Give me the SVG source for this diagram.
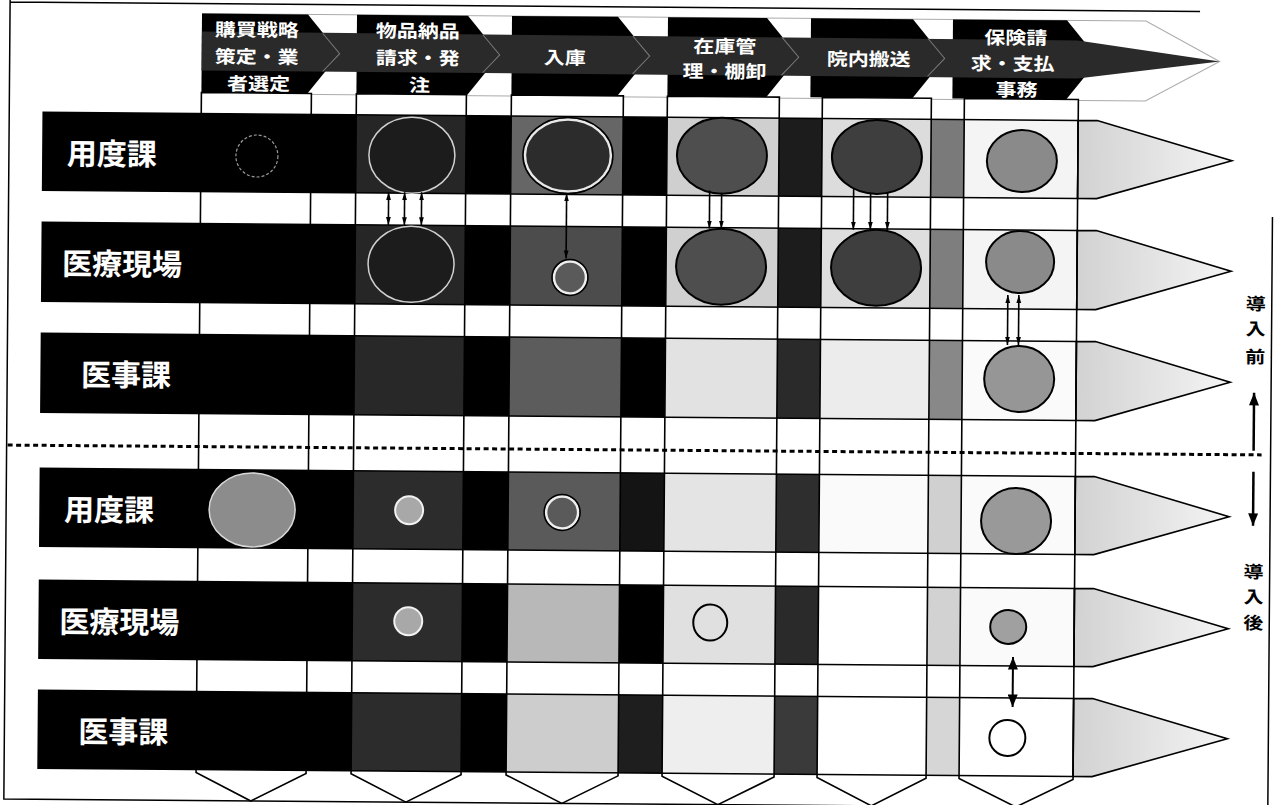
<svg xmlns="http://www.w3.org/2000/svg" width="1274" height="805" viewBox="0 0 1274 805">
<defs>
<style>
.lbl{font-family:"Noto Sans CJK JP","Noto Sans CJK SC",sans-serif;font-weight:bold;font-size:30px;fill:#fff;dominant-baseline:central}
.hd{font-family:"Noto Sans CJK JP","Noto Sans CJK SC",sans-serif;font-weight:bold;font-size:21px;fill:#fff;text-anchor:middle;dominant-baseline:central}
.side{font-family:"Noto Sans CJK JP","Noto Sans CJK SC",sans-serif;font-weight:bold;font-size:20px;fill:#000;text-anchor:middle;dominant-baseline:central}
.bar{fill:#000}
.edge{fill:none;stroke:#000;stroke-width:1.6}
.tip{fill:url(#tipg);stroke:#000;stroke-width:1.6;stroke-linejoin:miter}
.col{fill:none;stroke:#000;stroke-width:1.6}
.hdr{fill:#000}
.frame{fill:none;stroke:#000;stroke-width:1.5}
.cA{fill:#1c1c1c;stroke:#d0d0d0;stroke-width:1.5}
.cB{fill:#2c2c2c;stroke:#e8e8e8;stroke-width:2.5}
.cD{fill:#4e4e4e;stroke:#000;stroke-width:2}
.cD2{fill:#3e3e3e;stroke:#000;stroke-width:2}
.cM{fill:#8a8a8a;stroke:#000;stroke-width:2}
.cL{fill:#a8a8a8;stroke:#f2f2f2;stroke-width:2}
.cR{fill:#5a5a5a;stroke:#eee;stroke-width:2.5}
.cRo{fill:none;stroke:#000;stroke-width:1.5}
.cO{fill:none;stroke:#000;stroke-width:2}
.cW{fill:#fff;stroke:#000;stroke-width:2}
.cF{fill:none;stroke:#9a9a9a;stroke-width:1.2;stroke-dasharray:3 2}
.cG{fill:#8c8c8c;stroke:#d8d8d8;stroke-width:1.5}
.ar{fill:none;stroke:#000;stroke-width:1.6}
.arb{fill:none;stroke:#000;stroke-width:2.5}
</style>
<linearGradient id="tipg" x1="0" y1="0" x2="1" y2="0">
<stop offset="0" stop-color="#d2d2d2"/>
<stop offset="1" stop-color="#f4f4f4"/>
</linearGradient>
<marker id="ah" viewBox="0 0 10 6" refX="10" refY="3" markerWidth="8" markerHeight="6" markerUnits="userSpaceOnUse" orient="auto-start-reverse">
<path d="M0,0 L10,3 L0,6 z" fill="#000"/>
</marker>
<marker id="ahb" viewBox="0 0 10 8" refX="10" refY="4" markerWidth="13" markerHeight="10" markerUnits="userSpaceOnUse" orient="auto-start-reverse">
<path d="M0,0 L10,4 L0,8 z" fill="#000"/>
</marker>
</defs>
<rect x="0" y="0" width="1274" height="805" fill="#fff"/>
<g transform="rotate(0.45 637 400)">

<g id="frame">
<path class="frame" d="M7,7 H1197 M7,5 V804 H1274 M1271,212 V804"/>
</g>

<g id="process-arrow">
<path d="M199,17 H1143 L1217,57 L1143,97 H199" fill="none" stroke="#aaa" stroke-width="1"/>
</g>

<g id="headers">
<g id="h1"><polygon class="hdr" points="199,17 305,17 337,56 305,96 199,96"/></g>
<g id="h2"><polygon class="hdr" points="354,17 465,17 497,56 465,96 354,96"/></g>
<g id="h3"><polygon class="hdr" points="509,17 615,17 647,56 615,96 509,96"/></g>
<g id="h4"><polygon class="hdr" points="665,17 764,17 796,56 764,96 665,96"/></g>
<g id="h5"><polygon class="hdr" points="808,17 910,17 942,56 910,96 808,96"/></g>
<g id="h6"><polygon class="hdr" points="950,17 1064,17 1096,56 1064,96 950,96"/></g>
</g>

<g id="band">
<polygon points="199,35 1075,37 1217,57 1075,75 199,74" fill="#2a2a2a"/>
<g fill="none" stroke="#7a7a7a" stroke-width="1">
<polyline points="320,36 337,56 320,74"/>
<polyline points="480,36 497,56 480,74"/>
<polyline points="630,36 647,56 630,74"/>
<polyline points="779,36 796,56 779,74"/>
<polyline points="925,36 942,56 925,74"/>
</g>
</g>

<g id="header-text">
<text class="hd" transform="scale(1 0.85)"><tspan x="254" y="36.47">購買戦略</tspan><tspan x="254" y="68.24">策定・業</tspan><tspan x="256" y="100">者選定</tspan></text>
<text class="hd" transform="scale(1 0.85)"><tspan x="415" y="36.47">物品納品</tspan><tspan x="415" y="68.24">請求・発</tspan><tspan x="417" y="100">注</tspan></text>
<text class="hd" transform="scale(1 0.85)" x="562" y="67.06">入庫</text>
<text class="hd" transform="scale(1 0.85)"><tspan x="722" y="51.76">在庫管</tspan><tspan x="722" y="81.18">理・棚卸</tspan></text>
<text class="hd" transform="scale(1 0.85)" x="866" y="65.88">院内搬送</text>
<text class="hd" transform="scale(1 0.85)"><tspan x="1013" y="38.82">保険請</tspan><tspan x="1010" y="69.41">求・支払</tspan><tspan x="1014" y="100">事務</tspan></text>
</g>

<g id="columns-bg" fill="#fff">
<rect x="199" y="96" width="110" height="680"/>
<rect x="354" y="96" width="110" height="680"/>
<rect x="509" y="96" width="112" height="680"/>
<rect x="665" y="96" width="112" height="680"/>
<rect x="820" y="96" width="109" height="680"/>
<rect x="962" y="96" width="114" height="680"/>
</g>

<g id="row1-youdo-before">
<rect class="bar" x="41" y="117" width="1035" height="78"/>
<rect x="354" y="117" width="110" height="78" fill="#262626"/>
<rect x="509" y="117" width="112" height="78" fill="#666"/>
<rect x="665" y="117" width="112" height="78" fill="#cfcfcf"/>
<rect x="777" y="117" width="43" height="78" fill="#1c1c1c"/>
<rect x="820" y="117" width="109" height="78" fill="#dcdcdc"/>
<rect x="929" y="117" width="33" height="78" fill="#7a7a7a"/>
<rect x="962" y="117" width="114" height="78" fill="#f4f4f4"/>
<rect class="edge" x="41" y="117" width="1035" height="78"/>
<polygon class="tip" points="1076,117 1095,117 1230,156 1095,195 1076,195"/>
<text class="lbl" x="65" y="156">用度課</text>
<ellipse class="cF" cx="255" cy="159" rx="21" ry="21"/>
<ellipse class="cA" cx="410" cy="157" rx="43" ry="38"/>
<ellipse class="cB" cx="566" cy="156" rx="43" ry="36"/>
<ellipse class="cRo" cx="566" cy="156" rx="45" ry="38"/>
<ellipse class="cD" cx="720" cy="155" rx="45" ry="38"/>
<ellipse class="cD2" cx="875" cy="155" rx="45" ry="37"/>
<ellipse class="cM" cx="1020" cy="158" rx="35" ry="31"/>
</g>

<g id="row2-genba-before">
<rect class="bar" x="41" y="227" width="1035" height="79"/>
<rect x="354" y="227" width="110" height="79" fill="#262626"/>
<rect x="509" y="227" width="112" height="79" fill="#4c4c4c"/>
<rect x="665" y="227" width="112" height="79" fill="#d0d0d0"/>
<rect x="777" y="227" width="43" height="79" fill="#1c1c1c"/>
<rect x="820" y="227" width="109" height="79" fill="#dedede"/>
<rect x="929" y="227" width="33" height="79" fill="#7e7e7e"/>
<rect x="962" y="227" width="114" height="79" fill="#f4f4f4"/>
<rect class="edge" x="41" y="227" width="1035" height="79"/>
<polygon class="tip" points="1076,227 1095,227 1230,266.5 1095,306 1076,306"/>
<text class="lbl" x="61" y="266">医療現場</text>
<ellipse class="cA" cx="410" cy="266" rx="43" ry="38"/>
<circle class="cR" cx="569" cy="278" r="16"/>
<circle class="cRo" cx="569" cy="278" r="18"/>
<ellipse class="cD" cx="720" cy="266" rx="45" ry="38"/>
<ellipse class="cD2" cx="875" cy="266" rx="45" ry="38"/>
<ellipse class="cM" cx="1019" cy="259" rx="34" ry="31"/>
</g>

<g id="row3-iji-before">
<rect class="bar" x="41" y="338" width="1035" height="79"/>
<rect x="354" y="338" width="110" height="79" fill="#282828"/>
<rect x="509" y="338" width="112" height="79" fill="#5c5c5c"/>
<rect x="665" y="338" width="112" height="79" fill="#e2e2e2"/>
<rect x="777" y="338" width="43" height="79" fill="#2a2a2a"/>
<rect x="820" y="338" width="109" height="79" fill="#ececec"/>
<rect x="929" y="338" width="33" height="79" fill="#888"/>
<rect x="962" y="338" width="114" height="79" fill="#fafafa"/>
<rect class="edge" x="41" y="338" width="1035" height="79"/>
<polygon class="tip" points="1076,338 1095,338 1230,377.5 1095,417 1076,417"/>
<text class="lbl" x="81" y="377">医事課</text>
<ellipse class="cM" cx="1019" cy="376" rx="35" ry="33" style="fill:#969696"/>
</g>

<g id="divider">
<line x1="8" y1="450" x2="1262" y2="450" stroke="#000" stroke-width="3" stroke-dasharray="5 3.5"/>
</g>

<g id="row4-youdo-after">
<rect class="bar" x="41" y="473" width="1035" height="78"/>
<rect x="354" y="473" width="110" height="78" fill="#2c2c2c"/>
<rect x="509" y="473" width="112" height="78" fill="#5a5a5a"/>
<rect x="621" y="473" width="44" height="78" fill="#141414"/>
<rect x="665" y="473" width="112" height="78" fill="#e4e4e4"/>
<rect x="777" y="473" width="43" height="78" fill="#2e2e2e"/>
<rect x="820" y="473" width="109" height="78" fill="#fafafa"/>
<rect x="929" y="473" width="33" height="78" fill="#d0d0d0"/>
<rect x="962" y="473" width="114" height="78" fill="#fafafa"/>
<rect class="edge" x="41" y="473" width="1035" height="78"/>
<polygon class="tip" points="1076,473 1095,473 1230,512 1095,551 1076,551"/>
<text class="lbl" x="65" y="512">用度課</text>
<ellipse class="cG" cx="253" cy="513" rx="43" ry="37"/>
<circle class="cL" cx="410" cy="512" r="14"/>
<circle class="cR" cx="563" cy="513" r="16"/>
<circle class="cRo" cx="563" cy="513" r="18"/>
<ellipse class="cM" cx="1017" cy="518" rx="35" ry="33" style="fill:#999"/>
</g>

<g id="row5-genba-after">
<rect class="bar" x="41" y="585" width="1035" height="78"/>
<rect x="354" y="585" width="110" height="78" fill="#2c2c2c"/>
<rect x="509" y="585" width="112" height="78" fill="#b8b8b8"/>
<rect x="665" y="585" width="112" height="78" fill="#e0e0e0"/>
<rect x="777" y="585" width="43" height="78" fill="#2a2a2a"/>
<rect x="820" y="585" width="109" height="78" fill="#fff"/>
<rect x="929" y="585" width="33" height="78" fill="#d2d2d2"/>
<rect x="962" y="585" width="114" height="78" fill="#fafafa"/>
<rect class="edge" x="41" y="585" width="1035" height="78"/>
<polygon class="tip" points="1076,585 1095,585 1230,624 1095,663 1076,663"/>
<text class="lbl" x="61" y="624">医療現場</text>
<circle class="cL" cx="410" cy="623" r="14"/>
<ellipse class="cO" cx="712" cy="622" rx="17" ry="18"/>
<ellipse class="cM" cx="1010" cy="624" rx="18" ry="17" style="fill:#a0a0a0"/>
</g>

<g id="row6-iji-after">
<rect class="bar" x="41" y="695" width="1035" height="78"/>
<rect x="354" y="695" width="110" height="78" fill="#2c2c2c"/>
<rect x="509" y="695" width="112" height="78" fill="#cdcdcd"/>
<rect x="621" y="695" width="44" height="78" fill="#1e1e1e"/>
<rect x="665" y="695" width="112" height="78" fill="#eeeeee"/>
<rect x="777" y="695" width="43" height="78" fill="#3a3a3a"/>
<rect x="820" y="695" width="109" height="78" fill="#fff"/>
<rect x="929" y="695" width="33" height="78" fill="#d6d6d6"/>
<rect x="962" y="695" width="114" height="78" fill="#fff"/>
<rect class="edge" x="41" y="695" width="1035" height="78"/>
<polygon class="tip" points="1076,695 1095,695 1230,734 1095,773 1076,773"/>
<text class="lbl" x="81" y="734">医事課</text>
<circle class="cW" cx="1010" cy="735" r="18"/>
</g>

<g id="columns">
<path class="col" d="M199,96 V776 L254,804 L309,776 V96 Z"/>
<path class="col" d="M354,96 V776 L409,804 L464,776 V96 Z"/>
<path class="col" d="M509,96 V776 L565,804 L621,776 V96 Z"/>
<path class="col" d="M665,96 V776 L721,804 L777,776 V96 Z"/>
<path class="col" d="M820,96 V776 L874.5,804 L929,776 V96 Z"/>
<path class="col" d="M962,96 V776 L1019,804 L1076,776 V96 Z"/>
</g>

<g id="connectors">
<line class="ar" x1="387" y1="194" x2="387" y2="227" marker-start="url(#ah)" marker-end="url(#ah)"/>
<line class="ar" x1="403" y1="194" x2="403" y2="227" marker-start="url(#ah)" marker-end="url(#ah)"/>
<line class="ar" x1="420" y1="194" x2="420" y2="227" marker-start="url(#ah)" marker-end="url(#ah)"/>
<line class="ar" x1="565" y1="194" x2="565" y2="259" marker-start="url(#ah)" marker-end="url(#ah)"/>
<line class="ar" x1="708" y1="190" x2="708" y2="228" marker-end="url(#ah)"/>
<line class="ar" x1="720" y1="192" x2="720" y2="228" marker-end="url(#ah)"/>
<line class="ar" x1="852" y1="187" x2="852" y2="228" marker-end="url(#ah)"/>
<line class="ar" x1="869" y1="191" x2="869" y2="228" marker-end="url(#ah)"/>
<line class="ar" x1="886" y1="190" x2="886" y2="228" marker-end="url(#ah)"/>
<line class="ar" x1="1007" y1="292" x2="1007" y2="342" marker-start="url(#ah)" marker-end="url(#ah)"/>
<line class="ar" x1="1018" y1="292" x2="1018" y2="342" marker-start="url(#ah)" marker-end="url(#ah)"/>
<line class="arb" x1="1015" y1="654" x2="1015" y2="704" style="stroke-width:2" marker-start="url(#ahb)" marker-end="url(#ahb)"/>
<line class="arb" x1="1254" y1="446" x2="1254" y2="388" marker-end="url(#ahb)"/>
<line class="arb" x1="1254" y1="467" x2="1254" y2="521" marker-end="url(#ahb)"/>
</g>

<g id="phase-labels">
<text class="side" transform="scale(1 0.85)"><tspan x="1255" y="349.4">導</tspan><tspan x="1255" y="378.8">入</tspan><tspan x="1255" y="411.8">前</tspan></text>
<text class="side" transform="scale(1 0.85)"><tspan x="1255" y="664.7">導</tspan><tspan x="1255" y="694.1">入</tspan><tspan x="1255" y="724.7">後</tspan></text>
</g>

</g>
</svg>
